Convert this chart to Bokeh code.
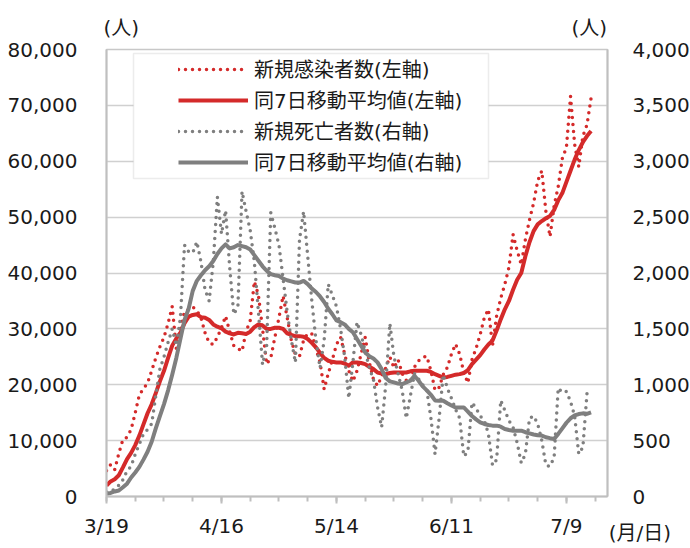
from bokeh.plotting import figure
from bokeh.models import (Range1d, LinearAxis, FixedTicker, NumeralTickFormatter,
                          Legend, LegendItem, BoxAnnotation, Title)
from bokeh.embed import file_html
from bokeh.resources import INLINE

# ---- data (day 0 = 3/19) ----
TICK_DAYS = [0, 28, 56, 84, 112]
TICK_LABELS = ["3/19", "4/16", "5/14", "6/11", "7/9"]

CASES = [4600, 5700, 4800, 7700, 10200, 10600, 12000, 15000, 18200, 19300,
         20300, 22500, 24800, 26800, 28500, 31000, 34000, 26500, 29800, 33200,
         33400, 33900, 33300, 32000, 29300, 27500, 27200, 28500, 30200, 32300,
         29500, 27000, 26500, 26000, 29500, 31500, 38500, 36000, 30000, 23700,
         24800, 28500, 32000, 35900, 32000, 28000, 25400, 25100, 28000, 29200,
         29100, 26500, 24000, 19200, 22000, 24500, 27200, 28500, 25500, 22500,
         20600, 22500, 25500, 28500, 24000, 21000, 19800, 21500, 23000, 25000,
         23000, 24500, 22000, 20800, 20500, 23200, 24300, 24900, 25100, 22500,
         19000, 19500, 21800, 23100, 25500, 27300, 25500, 22200, 20300, 24500,
         26500, 29000, 32000, 33500, 27000, 32300, 35500, 38000, 41000, 46900,
         44000, 41500, 46000, 49500, 52500, 56500, 58300, 51000, 46500, 52000,
         55500, 60500, 62500, 71600, 63000, 59000, 64500, 66500, 71300]

CASES_MA = [1960, 2700, 3100, 3800, 5200, 6700, 7800, 9200, 10900, 12900,
            14900, 16500, 18500, 20600, 22500, 24800, 27000, 28300, 29300, 31000,
            32200, 32500, 32600, 32100, 32000, 31600, 30800, 30400, 30100, 29500,
            29200, 29000, 29300, 29200, 29100, 29500, 30300, 30800, 30600, 30000,
            30000, 30200, 30200, 30000, 29200, 28900, 28700, 28700, 28600, 28200,
            27500, 26700, 25700, 24800, 24300, 24100, 24000, 24000, 23800, 23400,
            24000, 24000, 23900, 23700, 23200, 22800, 22200, 22000, 21900, 22100,
            22200, 22200, 22200, 22200, 22400, 22500, 22500, 22500, 22500, 22300,
            21900, 21600, 21300, 21400, 21600, 21800, 21900, 22100, 22600, 23700,
            24500, 25300, 26300, 27200, 27900, 29700, 31700, 33500, 35000, 37000,
            38800, 40000, 43000, 45500, 47500, 48700, 49300, 49800, 50200, 51300,
            53000, 54300, 56300, 58300, 60300, 62000, 63400, 64500, 65400]

DEATHS = [40, 50, 65, 100, 150, 230, 270, 380, 470, 560,
          600, 650, 900, 1140, 1250, 1380, 1500, 1350, 1600, 2250,
          2190, 2180, 2280, 2100, 1850, 1750, 2100, 2680, 2350, 2560,
          2050, 1630, 1700, 2730, 2550, 2380, 2100, 1650, 1180, 1350,
          2540, 2400, 2250, 1950, 1650, 1400, 1200, 2300, 2550, 2150,
          1750, 1400, 1150, 1400, 1900, 1800, 1700, 1500, 1250, 880,
          1200, 1560, 1450, 1300, 1150, 1050, 800, 620, 1000, 1550,
          1250, 1100, 950, 700, 900, 1100, 1050, 1000, 950, 700,
          380, 700, 1090, 970, 880, 780, 700, 360, 400, 840,
          790, 720, 680, 560, 280, 330, 860, 770, 680, 620,
          480, 300, 380, 700, 720, 650, 500, 280, 270, 350,
          970, 930, 940, 850, 720, 380, 440, 920, 950]

DEATHS_MA = [24, 32, 45, 54, 83, 115, 170, 215, 265, 330,
             400, 490, 610, 720, 827, 950, 1090, 1240, 1410, 1580,
             1680, 1840, 1930, 1980, 2025, 2060, 2107, 2170, 2220, 2256,
             2220, 2230, 2250, 2240, 2230, 2210, 2160, 2110, 2060, 2020,
             1990, 1980, 1973, 1950, 1935, 1925, 1915, 1914, 1929, 1900,
             1860, 1830, 1790, 1740, 1680, 1631, 1575, 1560, 1540, 1500,
             1470, 1410, 1350, 1290, 1255, 1235, 1200, 1140, 1060, 1030,
             1021, 1010, 1006, 1021, 1036, 1080, 1036, 985, 950, 910,
             860, 857, 857, 835, 815, 797, 797, 797, 760, 720,
             690, 664, 649, 640, 634, 634, 625, 604, 595, 589,
             589, 589, 575, 565, 555, 548, 545, 530, 522, 515,
             560, 610, 660, 700, 725, 738, 744, 740, 753]

SERIES_NAMES = ["新規感染者数(左軸)", "同7日移動平均値(左軸)",
                "新規死亡者数(右軸)", "同7日移動平均値(右軸)"]
UNIT_LABEL = "(人)"
X_UNIT_LABEL = "(月/日)"

days = list(range(len(CASES)))

RED = "#d42a2a"
GRAY = "#7f7f7f"
AXIS_GRAY = "#bfbfbf"
TXT = "#1a1a1a"
FONT = "DejaVu Sans, Noto Sans CJK JP"
NB = "\u00a0"

p = figure(frame_width=501, frame_height=447,
           x_range=Range1d(0, 122), y_range=Range1d(0, 80000),
           output_backend="svg", toolbar_location=None,
           min_border_left=106, min_border_right=82,
           min_border_top=49, min_border_bottom=50,
           background_fill_color="white", border_fill_color="white")
p.outline_line_color = "#c8c8c8"
p.outline_line_width = 1.5
p.extra_y_ranges = {"deaths": Range1d(0, 4000)}

p.xgrid.visible = False
p.ygrid.grid_line_color = "#d0d0d0"
p.ygrid.grid_line_width = 1.5

r1 = p.line(days, CASES, line_color=RED, line_width=3.5, line_dash="0 7", line_cap="round")
r2 = p.line(days, CASES_MA, line_color=RED, line_width=4, line_join="round")
r3 = p.line(days, DEATHS, y_range_name="deaths", line_color=GRAY, line_width=3.5,
            line_dash="0 7", line_cap="round")
r4 = p.line(days, DEATHS_MA, y_range_name="deaths", line_color=GRAY, line_width=4,
            line_join="round")

# x axis
xa = p.xaxis[0]
xa.ticker = FixedTicker(ticks=TICK_DAYS, minor_ticks=list(range(0, 123, 7)))
xa.major_label_overrides = dict(zip(TICK_DAYS, TICK_LABELS))
xa.major_tick_in = 0
xa.major_tick_out = 7
xa.minor_tick_in = 0
xa.minor_tick_out = 5
xa.major_tick_line_color = AXIS_GRAY
xa.minor_tick_line_color = AXIS_GRAY
xa.major_tick_line_width = 2
xa.minor_tick_line_width = 2
xa.major_label_standoff = 10
xa.axis_label = NB * 89 + X_UNIT_LABEL
xa.axis_label_text_font = FONT
xa.axis_label_text_font_size = "20px"
xa.axis_label_text_font_style = "normal"
xa.axis_label_text_color = TXT
xa.axis_label_standoff = -20

# left axis
ya = p.yaxis[0]
ya.ticker = FixedTicker(ticks=list(range(0, 80001, 10000)))
ya.formatter = NumeralTickFormatter(format="0,0")
ya.major_label_standoff = 23

# right axis
ra = LinearAxis(y_range_name="deaths",
                ticker=FixedTicker(ticks=list(range(0, 4001, 500))),
                formatter=NumeralTickFormatter(format="0,0"))
ra.major_label_standoff = 19
p.add_layout(ra, "right")

for ax in (xa, ya, ra):
    ax.axis_line_color = AXIS_GRAY
    ax.axis_line_width = 2
    ax.major_label_text_font = FONT
    ax.major_label_text_font_size = "20px"
    ax.major_label_text_color = TXT
for ax in (ya, ra):
    ax.major_tick_line_color = None
    ax.minor_tick_line_color = None

# unit labels above the axes
p.add_layout(Title(text=UNIT_LABEL + NB * 68 + UNIT_LABEL, align="left", offset=-3,
                   standoff=19, text_font=FONT, text_font_size="20px",
                   text_font_style="normal", text_color=TXT), "above")

# legend frame
box = BoxAnnotation(left=27, right=382, bottom=318, top=443,
                    left_units="screen", right_units="screen",
                    bottom_units="screen", top_units="screen",
                    fill_color="white", fill_alpha=1.0,
                    line_color=AXIS_GRAY, line_width=1.5)
p.add_layout(box)

legend = Legend(items=[LegendItem(label=n, renderers=[r]) for n, r in
                       zip(SERIES_NAMES, [r1, r2, r3, r4])],
                location=(65, 313), glyph_width=70, glyph_height=20,
                label_height=20, spacing=2, padding=7, margin=0,
                label_standoff=6, label_text_font=FONT,
                label_text_font_size="20px", label_text_color=TXT,
                border_line_alpha=0, background_fill_alpha=0)
p.add_layout(legend)

open("out.html", "w").write(file_html(p, INLINE, "chart"))
